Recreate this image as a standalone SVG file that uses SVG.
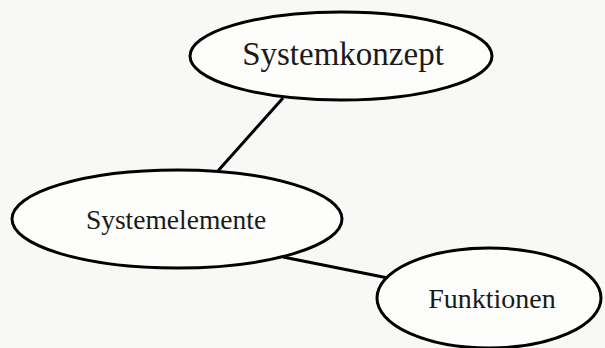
<svg xmlns="http://www.w3.org/2000/svg" width="605" height="348" viewBox="0 0 605 348">
<style>
.node ellipse{fill:#fdfdfb;stroke:#000;stroke-width:3}
.node text{font-family:"Liberation Serif","Times New Roman",serif;fill:#1a1a1a;text-anchor:middle}
.edge{stroke:#000;stroke-width:3;fill:none}
</style>
<rect width="605" height="348" fill="#f8f8f6"/>
<g id="connectors">
<line class="edge" x1="283" y1="98" x2="217" y2="172"/>
<line class="edge" x1="283" y1="257" x2="388" y2="278"/>
</g>
<g id="systemkonzept" class="node">
<ellipse cx="341" cy="56" rx="151" ry="44"/>
<text x="343" y="65" font-size="33">Systemkonzept</text>
</g>
<g id="systemelemente" class="node">
<ellipse cx="177" cy="219" rx="165" ry="49"/>
<text x="176" y="229" font-size="27.5">Systemelemente</text>
</g>
<g id="funktionen" class="node">
<ellipse cx="489" cy="298" rx="112" ry="50"/>
<text x="492" y="308" font-size="28">Funktionen</text>
</g>
</svg>
